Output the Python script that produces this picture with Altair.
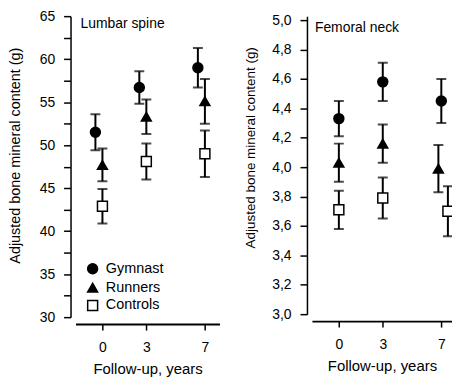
import altair as alt
import pandas as pd

years = [0, 3, 7]
groups = ["Gymnast", "Runners", "Controls"]

# Lumbar spine (g)
lumbar_gym = [51.5, 56.7, 59.0]
lumbar_gym_err = [2.1, 1.9, 2.3]
lumbar_run = [47.7, 53.3, 55.1]
lumbar_run_err = [1.9, 2.0, 2.6]
lumbar_con = [42.9, 48.1, 49.0]
lumbar_con_err = [2.0, 2.1, 2.7]

# Femoral neck (g)
fem_gym = [4.33, 4.58, 4.45]
fem_gym_err = [0.12, 0.13, 0.15]
fem_run = [4.03, 4.16, 3.99]
fem_run_err = [0.13, 0.13, 0.16]
fem_con = [3.71, 3.79, 3.70]
fem_con_err = [0.13, 0.14, 0.17]

lumbar_ticks = [30 + 2.5 * i for i in range(15)]
fem_ticks = [round(3.0 + 0.2 * i, 1) for i in range(11)]


def build(means, errs):
    rows = []
    for g, m, e in zip(groups, means, errs):
        for y, mv, ev in zip(years, m, e):
            rows.append({"year": y, "group": g, "mean": mv, "err": ev})
    return pd.DataFrame(rows)


df_l = build([lumbar_gym, lumbar_run, lumbar_con],
             [lumbar_gym_err, lumbar_run_err, lumbar_con_err])
df_f = build([fem_gym, fem_run, fem_con],
             [fem_gym_err, fem_run_err, fem_con_err])

FONT = "Liberation Sans"


def panel(df, title, xdomain, width, height, ydomain, yticks, label_expr,
          dodge_expr, show_legend, title_x, title_y, title_size, title_dx):
    base = alt.Chart(df).transform_calculate(
        xpos=dodge_expr,
        lo="datum.mean - datum.err",
        hi="datum.mean + datum.err",
    )
    x = alt.X(
        "xpos:Q",
        scale=alt.Scale(domain=xdomain, nice=False, zero=False),
        axis=alt.Axis(values=years, title="Follow-up, years", offset=7,
                      grid=False, tickSize=6, labelPadding=11,
                      domainWidth=2, tickWidth=1.5, titlePadding=7,
                      titleFontSize=15),
    )
    yscale = alt.Scale(domain=ydomain, nice=False, zero=False)
    yaxis = alt.Axis(values=yticks, labelExpr=label_expr, labelOverlap=False,
                     title="Adjusted bone mineral content (g)", offset=5,
                     grid=False, tickSize=7, labelPadding=9, domainWidth=1.5,
                     tickWidth=1.5, titleX=title_x, titleY=title_y,
                     titleBaseline="middle", titleAlign="center",
                     titleFontSize=title_size)
    rule = base.mark_rule(strokeWidth=2, color="black", clip=True).encode(
        x=x, y=alt.Y("lo:Q", scale=yscale, axis=yaxis), y2="hi:Q")
    cap_lo = base.mark_tick(size=10, thickness=2, color="black", orient="horizontal",
                            clip=True).encode(
        x=x, y=alt.Y("lo:Q", scale=yscale, axis=yaxis))
    cap_hi = base.mark_tick(size=10, thickness=2, color="black", orient="horizontal",
                            clip=True).encode(
        x=x, y=alt.Y("hi:Q", scale=yscale, axis=yaxis))
    legend = alt.Legend(title=None, orient="none", legendX=10, legendY=247,
                        labelFontSize=14.5, labelFont=FONT, labelColor="black",
                        rowPadding=2, labelOffset=6, symbolStrokeWidth=1.5,
                        symbolStrokeColor="black") if show_legend else None
    pts = base.mark_point(filled=True, strokeWidth=1.5, opacity=1,
                          clip=True).encode(
        x=x,
        y=alt.Y("mean:Q", scale=yscale, axis=yaxis),
        shape=alt.Shape("group:N", scale=alt.Scale(
            domain=groups, range=["circle", "triangle-up", "square"]), legend=legend),
        fill=alt.Fill("group:N", scale=alt.Scale(
            domain=groups, range=["black", "black", "white"]), legend=legend),
        stroke=alt.Stroke("group:N", scale=alt.Scale(
            domain=groups, range=["black", "black", "black"]), legend=legend),
        size=alt.Size("group:N", scale=alt.Scale(
            domain=groups, range=[100, 100, 45]), legend=legend),
    )
    return alt.layer(rule, cap_lo, cap_hi, pts).properties(
        width=width, height=height,
        title=alt.TitleParams(title, anchor="start", frame="group", dx=title_dx, dy=8,
                              fontSize=14, fontWeight="normal", font=FONT,
                              color="black", offset=-14),
    )


left = panel(df_l, "Lumbar spine", [-1.84, 8.0], 145, 303, [30, 65],
             lumbar_ticks, "datum.value % 5 == 0 ? datum.label : ''",
             "datum.year + (datum.group == 'Gymnast' ? -0.48 : 0)", True,
             -55, 140, 14.5, 5)
right = panel(df_f, "Femoral neck", [-1.84, 7.73], 141, 300, [3.0, 5.027],
              fem_ticks, "replace(format(datum.value, '.1f'), '.', ',')",
              "datum.year + (datum.group == 'Controls' && datum.year == 7 ? 0.45 : 0)"
              " + (datum.group == 'Runners' && datum.year == 7 ? -0.2 : 0)",
              False, -57, 132, 13.5, 3)

chart = alt.hconcat(left, right, spacing=23).resolve_scale(
    x="independent", y="independent"
).resolve_legend(shape="independent", fill="independent", size="independent",
                 stroke="independent").configure_view(
    stroke=None
).configure_axis(
    domainColor="black", tickColor="black", labelColor="black", titleColor="black",
    labelFont=FONT, titleFont=FONT, labelFontSize=14, titleFontSize=14.5,
    titleFontWeight="normal", labelFontWeight="normal", labelOverlap=False,
).properties(
    background="white",
    padding={"left": 8, "top": 8, "right": 0, "bottom": 0},
)

chart.save("out.html", embed_options={"renderer": "svg", "actions": False})
